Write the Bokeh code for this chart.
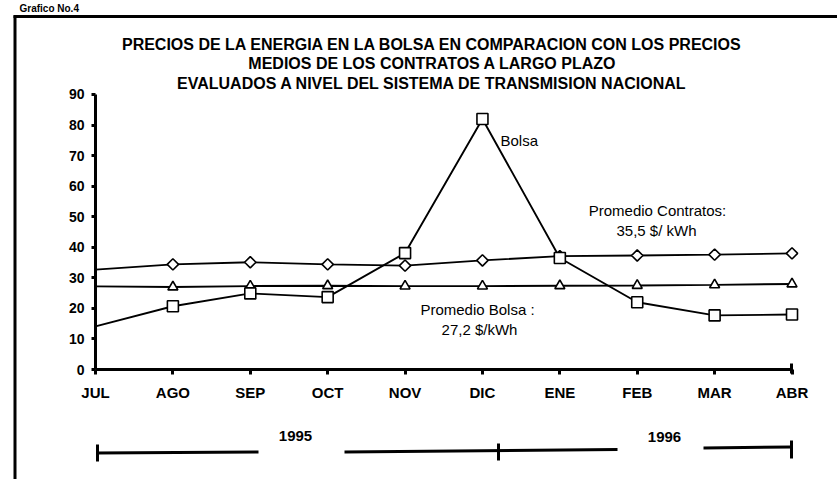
import numpy as np
from bokeh.plotting import figure
from bokeh.models import Label, FixedTicker, Range1d, ColumnDataSource
from bokeh.embed import file_html
from bokeh.resources import INLINE

# ---- data ----
months = ["JUL", "AGO", "SEP", "OCT", "NOV", "DIC", "ENE", "FEB", "MAR", "ABR"]
bolsa = [14.1, 20.7, 24.9, 23.7, 38.1, 82.0, 36.5, 22.0, 17.7, 18.0]
contratos = [32.7, 34.4, 35.1, 34.4, 34.0, 35.7, 37.1, 37.3, 37.6, 38.0]
promedio_bolsa = [27.2, 27.0, 27.3, 27.4, 27.3, 27.3, 27.4, 27.5, 27.7, 28.0]
y_ticks = [0, 10, 20, 30, 40, 50, 60, 70, 80, 90]
title_lines = [
    "PRECIOS DE LA ENERGIA EN LA BOLSA EN COMPARACION CON LOS PRECIOS",
    "MEDIOS DE LOS CONTRATOS A LARGO PLAZO",
    "EVALUADOS A NIVEL DEL SISTEMA DE TRANSMISION NACIONAL",
]
years = ["1995", "1996"]
caption = "Grafico No.4"

FONT = "Liberation Sans"
W, H = 837, 479
X0, PX_X = 95.0, 77.39      # canvas x of JUL, pixels per month
Y0, PX_Y = 369.0, 3.0556    # canvas y of value 0, pixels per unit


def X(px):  # picture pixel -> data x
    return (px - X0) / PX_X


def Y(py):  # picture pixel -> data y
    return (Y0 - py) / PX_Y


x = list(range(len(months)))

p = figure(width=W, height=H, output_backend="svg", toolbar_location=None,
           x_range=Range1d(X(0), X(W)), y_range=Range1d(Y(H), Y(0)),
           min_border=0, min_border_left=0, min_border_right=0,
           min_border_top=0, min_border_bottom=0,
           background_fill_color="white", border_fill_color="white")
p.outline_line_color = None
p.grid.visible = False

for ax in (p.xaxis[0], p.yaxis[0]):
    ax.fixed_location = 0
    ax.axis_line_width = 3
    ax.axis_line_color = "black"
    ax.major_tick_line_width = 3
    ax.major_tick_line_color = "black"
    ax.minor_tick_line_color = None
    ax.major_tick_in = 0
    ax.major_label_text_font = FONT
    ax.major_label_text_font_style = "bold"
    ax.major_label_text_color = "black"

p.xaxis.bounds = (0, 9)
p.xaxis.ticker = FixedTicker(ticks=x)
p.xaxis.major_label_overrides = {i: m for i, m in enumerate(months)}
p.xaxis.major_tick_out = 5
p.xaxis.major_label_standoff = 9
p.xaxis.major_label_text_font_size = "15px"

p.yaxis.bounds = (0, 90)
p.yaxis.ticker = FixedTicker(ticks=y_ticks)
p.yaxis.major_tick_out = 4
p.yaxis.major_label_standoff = 7
p.yaxis.major_label_text_font_size = "14px"

src = ColumnDataSource(dict(x=x, bolsa=bolsa, contratos=contratos, prom=promedio_bolsa))
mk = ColumnDataSource(dict(x=x[1:], bolsa=bolsa[1:], contratos=contratos[1:],
                           prom=promedio_bolsa[1:]))

p.line("x", "contratos", source=src, line_color="black", line_width=1.9)
p.line("x", "prom", source=src, line_color="black", line_width=1.9)
p.line("x", "bolsa", source=src, line_color="black", line_width=1.9)

p.scatter("x", "prom", source=mk, marker="triangle", size=10,
          fill_color="white", line_color="black", line_width=1.6)
p.scatter("x", "contratos", source=mk, marker="square", angle=np.pi / 4, size=8,
          fill_color="white", line_color="black", line_width=1.6)
p.scatter("x", "bolsa", source=mk, marker="square", size=11,
          fill_color="white", line_color="black", line_width=1.6)


def note(txt, px, py, align="center", size="15px", style="normal", baseline="middle"):
    p.add_layout(Label(x=X(px), y=Y(py), text=txt, text_align=align,
                       text_baseline=baseline, text_font=FONT,
                       text_font_style=style, text_font_size=size,
                       text_color="black"))


note(caption, 19, 8, align="left", size="10px", style="bold", baseline="alphabetic")

# title (three lines)
for txt, py in zip(title_lines, [44, 63, 83]):
    note(txt, 432, py, size="16px", style="bold")

note("Bolsa", 500, 140, align="left")
note("Promedio Contratos:", 657, 210)
note("35,5 $/ kWh", 656, 230)
note("Promedio Bolsa :", 477, 309)
note("27,2 $/kWh", 479, 329)

# year brackets under the month axis
note(years[0], 295, 435, style="bold")
note(years[1], 664, 436, style="bold")

segs = [
    ((96, 452.5), (258, 451.5)), ((97, 444), (97, 461)),
    ((344, 451.5), (617, 449)), ((498, 443), (498, 460)),
    ((703, 447.5), (791, 446.5)), ((791, 440), (791, 458)),
    ((791, 363), (791, 373)),
    # frame of the scanned sheet
    ((14.5, 15), (14.5, 479)), ((13, 16), (837, 16)),
]
p.segment(x0=[X(a[0]) for a, b in segs], y0=[Y(a[1]) for a, b in segs],
          x1=[X(b[0]) for a, b in segs], y1=[Y(b[1]) for a, b in segs],
          line_color="black", line_width=3)

open("out.html", "w").write(file_html(p, INLINE))
